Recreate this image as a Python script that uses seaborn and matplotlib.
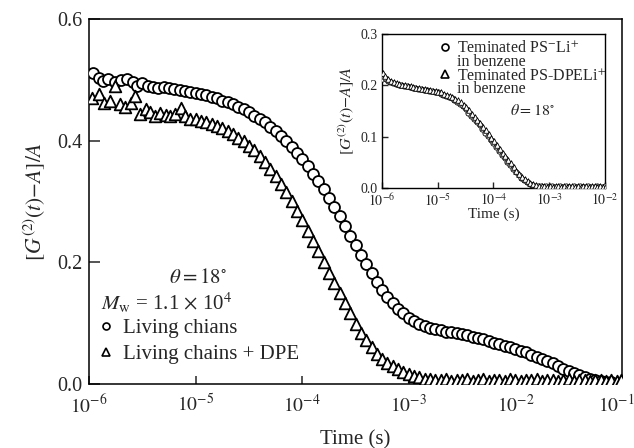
import numpy as np
import pandas as pd
import matplotlib
matplotlib.use('Agg')
import matplotlib.pyplot as plt
from matplotlib.lines import Line2D
from matplotlib.ticker import NullLocator
from matplotlib.transforms import ScaledTranslation
import seaborn as sns

# ---- main panel data (log10 of time in s, normalised correlation) ----
living_logt = [-5.96, -5.91, -5.87, -5.82, -5.76, -5.70, -5.64, -5.59, -5.55, -5.50,
               -5.45, -5.40, -5.35, -5.30, -5.25, -5.20, -5.15, -5.10, -5.05, -5.00,
               -4.95, -4.90, -4.85, -4.80, -4.75, -4.70, -4.65, -4.60, -4.55, -4.50,
               -4.45, -4.40, -4.35, -4.30, -4.25, -4.20, -4.15, -4.10, -4.05, -4.00,
               -3.95, -3.90, -3.85, -3.80, -3.75, -3.70, -3.65, -3.60, -3.55, -3.50,
               -3.45, -3.40, -3.35, -3.30, -3.25, -3.20, -3.15, -3.10, -3.05, -3.00,
               -2.95, -2.90, -2.85, -2.80, -2.75, -2.70, -2.65, -2.60, -2.55, -2.50,
               -2.45, -2.40, -2.35, -2.30, -2.25, -2.20, -2.15, -2.10, -2.05, -2.00,
               -1.95, -1.90, -1.85, -1.80, -1.75, -1.70, -1.65, -1.60, -1.55, -1.50,
               -1.45, -1.40, -1.35, -1.30, -1.25, -1.20, -1.15, -1.10]
living_g2 = [0.512, 0.503, 0.498, 0.502, 0.497, 0.499, 0.501, 0.497, 0.490, 0.494,
             0.490, 0.489, 0.487, 0.488, 0.486, 0.485, 0.483, 0.482, 0.480, 0.479,
             0.476, 0.475, 0.472, 0.470, 0.466, 0.463, 0.460, 0.456, 0.452, 0.447,
             0.441, 0.436, 0.430, 0.423, 0.416, 0.408, 0.399, 0.390, 0.380, 0.370,
             0.358, 0.346, 0.333, 0.320, 0.306, 0.291, 0.276, 0.260, 0.244, 0.228,
             0.212, 0.197, 0.182, 0.168, 0.155, 0.143, 0.133, 0.124, 0.116, 0.109,
             0.104, 0.099, 0.095, 0.092, 0.090, 0.088, 0.086, 0.085, 0.083, 0.082,
             0.080, 0.078, 0.076, 0.074, 0.071, 0.068, 0.065, 0.062, 0.060, 0.058,
             0.055, 0.052, 0.048, 0.045, 0.041, 0.038, 0.034, 0.029, 0.025, 0.021,
             0.018, 0.015, 0.012, 0.009, 0.007, 0.005, 0.004, 0.003]

dpe_logt = [-5.97, -5.91, -5.86, -5.80, -5.76, -5.71, -5.66, -5.61, -5.57, -5.52,
            -5.47, -5.43, -5.38, -5.33, -5.28, -5.24, -5.19, -5.14, -5.10, -5.05,
            -5.00, -4.95, -4.90, -4.85, -4.80, -4.75, -4.70, -4.65, -4.60, -4.55,
            -4.50, -4.45, -4.40, -4.35, -4.30, -4.25, -4.20, -4.15, -4.10, -4.05,
            -4.00, -3.95, -3.90, -3.85, -3.80, -3.75, -3.70, -3.65, -3.60, -3.55,
            -3.50, -3.45, -3.40, -3.35, -3.30, -3.25, -3.20, -3.15, -3.10, -3.05,
            -3.00, -2.95, -2.90, -2.85, -2.80, -2.75, -2.70, -2.65, -2.60, -2.55,
            -2.50, -2.45, -2.40, -2.35, -2.30, -2.25, -2.20, -2.15, -2.10, -2.05,
            -2.00, -1.95, -1.90, -1.85, -1.80, -1.75, -1.70, -1.65, -1.60, -1.55,
            -1.50, -1.45, -1.40, -1.35, -1.30, -1.25, -1.20, -1.15, -1.10, -1.05, -1.01]
dpe_g2 = [0.470, 0.476, 0.462, 0.466, 0.490, 0.460, 0.455, 0.462, 0.474, 0.444,
          0.452, 0.447, 0.441, 0.446, 0.442, 0.440, 0.444, 0.454, 0.440, 0.436,
          0.435, 0.433, 0.430, 0.427, 0.424, 0.420, 0.416, 0.411, 0.405, 0.399,
          0.392, 0.384, 0.375, 0.365, 0.354, 0.342, 0.329, 0.315, 0.300, 0.285,
          0.269, 0.252, 0.235, 0.218, 0.200, 0.183, 0.166, 0.149, 0.133, 0.116,
          0.098, 0.084, 0.072, 0.060, 0.050, 0.041, 0.034, 0.029, 0.024, 0.020,
          0.016, 0.013, 0.011, 0.009, 0.008, 0.007, 0.006, 0.008, 0.005, 0.007,
          0.006, 0.009, 0.005, 0.006, 0.008, 0.005, 0.007, 0.006, 0.005, 0.008,
          0.006, 0.005, 0.007, 0.006, 0.009, 0.005, 0.006, 0.007, 0.005, 0.006,
          0.008, 0.005, 0.006, 0.007, 0.005, 0.006, 0.007, 0.005, 0.006, 0.005, 0.006]

# ---- inset data ----
inset_logt = [-6.00, -5.95, -5.90, -5.85, -5.80, -5.75, -5.70, -5.65, -5.60, -5.55,
              -5.50, -5.45, -5.40, -5.35, -5.30, -5.25, -5.20, -5.15, -5.10, -5.05,
              -5.00, -4.95, -4.90, -4.85, -4.80, -4.75, -4.70, -4.65, -4.60, -4.55,
              -4.50, -4.45, -4.40, -4.35, -4.30, -4.25, -4.20, -4.15, -4.10, -4.05,
              -4.00, -3.95, -3.90, -3.85, -3.80, -3.75, -3.70, -3.65, -3.60, -3.55,
              -3.50, -3.45, -3.40, -3.35, -3.30, -3.25, -3.20, -3.15, -3.10, -3.05,
              -3.00, -2.95, -2.90, -2.85, -2.80, -2.75, -2.70, -2.65, -2.60, -2.55,
              -2.50, -2.45, -2.40, -2.35, -2.30, -2.25, -2.20, -2.15, -2.10, -2.05, -2.00]
term_li_g2 = [0.212, 0.214, 0.208, 0.206, 0.204, 0.203, 0.201, 0.200, 0.199, 0.198,
              0.197, 0.195, 0.194, 0.193, 0.192, 0.191, 0.190, 0.189, 0.188, 0.187,
              0.186, 0.184, 0.182, 0.180, 0.178, 0.175, 0.172, 0.168, 0.164, 0.159,
              0.153, 0.147, 0.141, 0.135, 0.128, 0.122, 0.115, 0.108, 0.101, 0.094,
              0.087, 0.080, 0.072, 0.065, 0.058, 0.051, 0.044, 0.037, 0.031, 0.025,
              0.020, 0.015, 0.011, 0.008, 0.006, 0.004, 0.003, 0.003, 0.002, 0.003,
              0.002, 0.003, 0.002, 0.002, 0.003, 0.002, 0.003, 0.002, 0.002, 0.003,
              0.002, 0.003, 0.002, 0.002, 0.003, 0.002, 0.002, 0.003, 0.002, 0.002, 0.003]
term_dpe_g2 = [0.224, 0.218, 0.212, 0.209, 0.206, 0.204, 0.202, 0.201, 0.200, 0.199,
               0.198, 0.197, 0.195, 0.194, 0.193, 0.192, 0.191, 0.190, 0.189, 0.188,
               0.187, 0.186, 0.184, 0.182, 0.180, 0.177, 0.174, 0.171, 0.167, 0.162,
               0.157, 0.151, 0.145, 0.139, 0.132, 0.126, 0.119, 0.112, 0.105, 0.098,
               0.091, 0.084, 0.076, 0.069, 0.062, 0.055, 0.048, 0.041, 0.034, 0.028,
               0.022, 0.017, 0.013, 0.009, 0.007, 0.005, 0.004, 0.003, 0.003, 0.002,
               0.003, 0.002, 0.003, 0.003, 0.002, 0.003, 0.002, 0.003, 0.003, 0.002,
               0.003, 0.002, 0.003, 0.003, 0.002, 0.003, 0.003, 0.002, 0.003, 0.002, 0.003]

main_xticks = [1e-6, 1e-5, 1e-4, 1e-3, 1e-2, 1e-1]
main_xlabels = [r'$10^{-6}$', r'$10^{-5}$', r'$10^{-4}$', r'$10^{-3}$', r'$10^{-2}$', r'$10^{-1}$']
main_yticks = [0.0, 0.2, 0.4, 0.6]
inset_xticks = [1e-6, 1e-5, 1e-4, 1e-3, 1e-2]
inset_xlabels = main_xlabels[:5]
inset_yticks = [0.0, 0.1, 0.2, 0.3]
ylab = r'$[G^{(2)}(t){-}A]/A$'

living = pd.DataFrame({'t': np.power(10.0, living_logt), 'g2': living_g2})
dpe = pd.DataFrame({'t': np.power(10.0, dpe_logt), 'g2': dpe_g2})
term_li = pd.DataFrame({'t': np.power(10.0, inset_logt), 'g2': term_li_g2})
term_dpe = pd.DataFrame({'t': np.power(10.0, inset_logt) * 1.03, 'g2': term_dpe_g2})

sns.set_theme(style='ticks')
plt.rcParams['font.family'] = ['Liberation Serif', 'DejaVu Serif']
plt.rcParams['mathtext.fontset'] = 'stix'
plt.rcParams['axes.linewidth'] = 1.1

fig = plt.figure(figsize=(6.34, 4.48), dpi=100)
ax = fig.add_axes([0.1404, 0.1429, 0.8407, 0.8147])

sns.scatterplot(data=living, x='t', y='g2', ax=ax, marker='o', s=62,
                color='white', edgecolor='black', linewidth=1.3, zorder=3)
sns.scatterplot(data=dpe, x='t', y='g2', ax=ax, marker='^', s=70,
                color='white', edgecolor='black', linewidth=1.3, zorder=4)

ax.set_xscale('log')
ax.set_xlim(1e-6, 1e-1)
ax.set_ylim(0, 0.6)
ax.set_xticks(main_xticks)
ax.set_xticklabels(main_xlabels)
ax.xaxis.set_minor_locator(NullLocator())
ax.set_yticks(main_yticks)
ax.set_yticklabels([f'{v:.1f}' for v in main_yticks])
ax.tick_params(axis='x', direction='in', length=6, width=1.1, labelsize=14, pad=7)
ax.tick_params(axis='y', direction='in', length=8, width=1.1, labelsize=14.5, pad=5)
# last x label sits a little left so it stays on the canvas
last = ax.get_xticklabels()[-1]
last.set_transform(last.get_transform() + ScaledTranslation(-4 / 72, 0, fig.dpi_scale_trans))
ax.set_xlabel('Time (s)', fontsize=15, labelpad=10)
ax.set_ylabel(ylab, fontsize=15.5, labelpad=6)
for sp in ax.spines.values():
    sp.set_color('black')

ax.text(0.205, 0.29, r'$\theta = 18^{\circ}$', transform=ax.transAxes,
        ha='center', va='center', fontsize=15)
ax.text(0.022, 0.222, r'$M_{\rm w}$ = 1.1 $\times$ 10$^{4}$', transform=ax.transAxes,
        ha='left', va='center', fontsize=15)
main_handles = [
    Line2D([], [], ls='none', marker='o', ms=5, mfc='white', mec='black', mew=1.2),
    Line2D([], [], ls='none', marker='^', ms=5.5, mfc='white', mec='black', mew=1.2),
]
ax.legend(main_handles, ['Living chians', 'Living chains + DPE'], loc='lower left',
          bbox_to_anchor=(-0.003, 0.026), frameon=False, fontsize=15,
          handlelength=0.8, handletextpad=0.4, labelspacing=0.32, borderpad=0)

# ---- inset ----
ax_in = fig.add_axes([0.6025, 0.5804, 0.3517, 0.3438])
sns.scatterplot(data=term_li, x='t', y='g2', ax=ax_in, marker='o', s=14,
                color='white', edgecolor='black', linewidth=0.6, zorder=3)
sns.scatterplot(data=term_dpe, x='t', y='g2', ax=ax_in, marker='^', s=16,
                color='white', edgecolor='black', linewidth=0.6, zorder=4)
ax_in.set_xscale('log')
ax_in.set_xlim(1e-6, 1e-2)
ax_in.set_ylim(0, 0.3)
ax_in.set_xticks(inset_xticks)
ax_in.set_xticklabels(inset_xlabels)
ax_in.xaxis.set_minor_locator(NullLocator())
ax_in.set_yticks(inset_yticks)
ax_in.set_yticklabels([f'{v:.1f}' for v in inset_yticks])
ax_in.tick_params(axis='both', direction='in', length=4, width=1.0, labelsize=10, pad=3)
ax_in.set_xlabel('Time (s)', fontsize=11, labelpad=-1)
ax_in.set_ylabel(ylab, fontsize=11.5, labelpad=3)
for sp in ax_in.spines.values():
    sp.set_color('black')
    sp.set_linewidth(1.0)

blank = Line2D([], [], ls='none', marker=None)
inset_handles = [
    Line2D([], [], ls='none', marker='o', ms=5, mfc='white', mec='black', mew=1.2),
    blank,
    Line2D([], [], ls='none', marker='^', ms=5.5, mfc='white', mec='black', mew=1.2),
    blank,
]
inset_labels = [r'Teminated PS$^{-}$Li$^{+}$', 'in benzene',
                r'Teminated PS-DPELi$^{+}$', 'in benzene']
ax_in.legend(inset_handles, inset_labels, loc='upper left', bbox_to_anchor=(0.224, 1.01),
             frameon=False, fontsize=11.5, handlelength=0.6, handletextpad=0.5,
             labelspacing=-0.15, borderpad=0)
ax_in.text(0.677, 0.50, r'$\theta = 18^{\circ}$', transform=ax_in.transAxes,
           ha='center', va='center', fontsize=11.5)

fig.savefig('out.png', dpi=100)
